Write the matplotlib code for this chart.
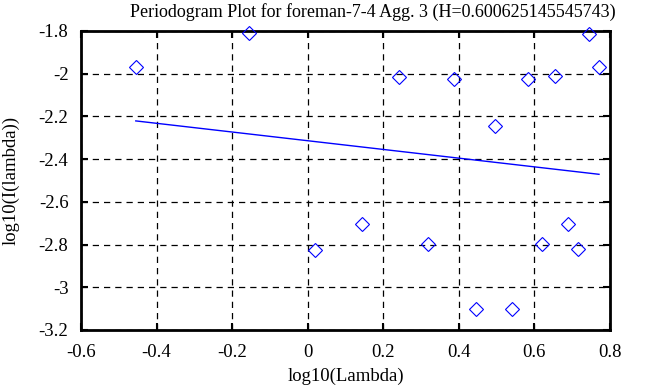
import matplotlib
matplotlib.use("Agg")
import matplotlib.pyplot as plt

# periodogram points
log_lambda = [-0.455, -0.155, 0.019, 0.145, 0.241, 0.319, 0.386, 0.445, 0.496,
              0.542, 0.582, 0.621, 0.654, 0.688, 0.716, 0.744, 0.771]
log_I = [-1.967, -1.811, -2.824, -2.702, -2.014, -2.796, -2.025, -3.100, -2.246,
         -3.100, -2.025, -2.796, -2.012, -2.702, -2.821, -1.812, -1.969]

# fitted line end points
fit_x = [-0.455, 0.771]
fit_y = [-2.221, -2.471]

xticks = [-0.6, -0.4, -0.2, 0, 0.2, 0.4, 0.6, 0.8]
yticks = [-3.2, -3, -2.8, -2.6, -2.4, -2.2, -2, -1.8]
xtick_labels = ["-0.6", "-0.4", "-0.2", "0", "0.2", "0.4", "0.6", "0.8"]
ytick_labels = ["-3.2", "-3", "-2.8", "-2.6", "-2.4", "-2.2", "-2", "-1.8"]

plt.rcParams['font.family'] = ['Liberation Serif', 'DejaVu Serif']

fig = plt.figure(figsize=(6.58, 3.87), dpi=100)
ax = fig.add_axes([0.1231, 0.1473, 0.8039, 0.7726])

ax.plot(log_lambda, log_I, linestyle='none', marker='D', markersize=7,
        markerfacecolor='none', markeredgecolor='#0000ff', markeredgewidth=0.8,
        clip_on=False, zorder=5)
ax.plot(fit_x, fit_y, color='#0000ff', linewidth=1.0, zorder=4)

ax.set_xlim(-0.6, 0.8)
ax.set_ylim(-3.2, -1.8)
ax.set_xticks(xticks)
ax.set_xticklabels(xtick_labels)
ax.set_yticks(yticks)
ax.set_yticklabels(ytick_labels)
ax.tick_params(direction='in', length=5, width=1.5, labelsize=13.5,
               top=True, right=True)
ax.tick_params(axis='x', pad=10)
ax.tick_params(axis='y', pad=9)
ax.grid(True, color='black', linestyle=(0, (5, 4)), linewidth=0.9)
for s in ax.spines.values():
    s.set_linewidth(2)

ax.set_title("Periodogram Plot for foreman-7-4 Agg. 3 (H=0.600625145545743)",
             fontsize=13, pad=10, x=0.552)
ax.set_xlabel("log10(Lambda)", fontsize=13.5, labelpad=5)
ax.set_ylabel("log10(I(lambda))", fontsize=13.5, labelpad=14)

fig.savefig("out.png", dpi=100)
